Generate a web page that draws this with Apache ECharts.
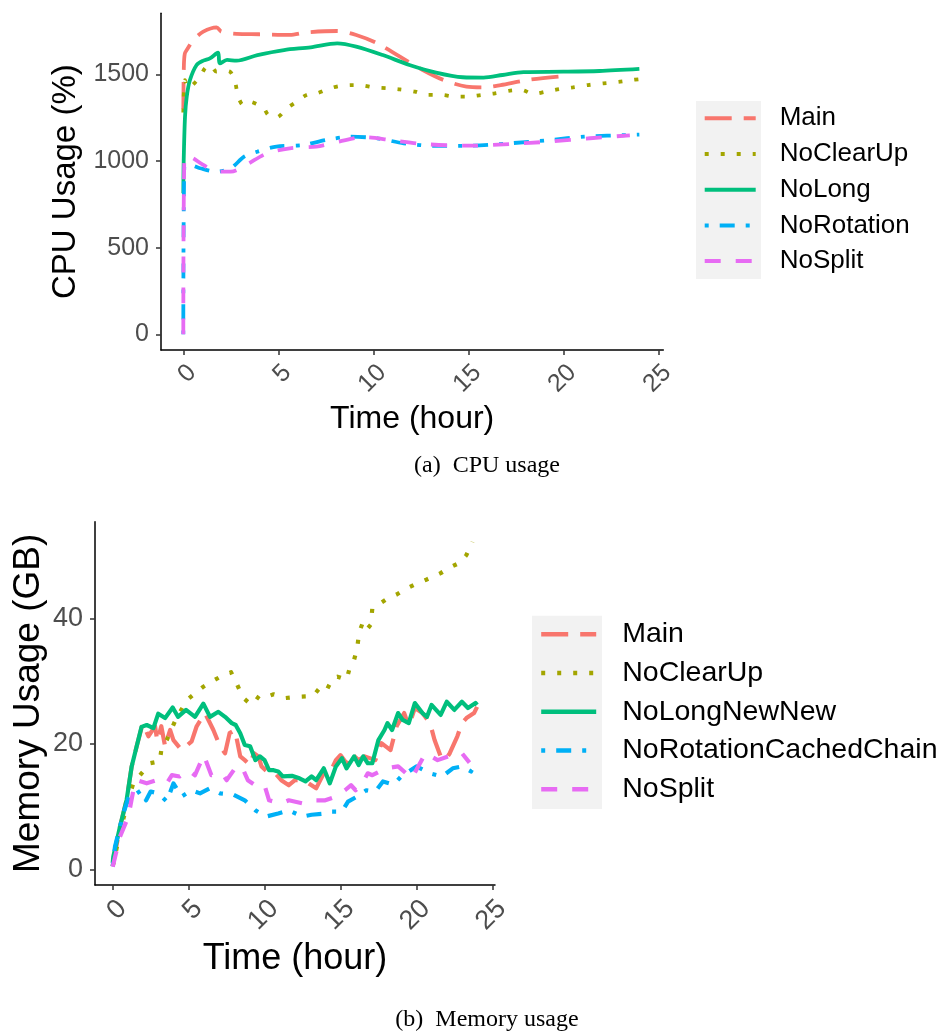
<!DOCTYPE html>
<html><head><meta charset="utf-8">
<script src="https://cdn.jsdelivr.net/npm/echarts@6/dist/echarts.min.js"></script>
<style>html,body{margin:0;padding:0;background:#fff}#c{width:942px;height:1032px}</style>
</head><body><div id="c"></div><script>
// ---------- tick labels & categories ----------
const hourTicks = [0, 5, 10, 15, 20, 25];
const cpuTicks = [0, 500, 1000, 1500];
const memTicks = [0, 20, 40];
const cpuNames = ['Main', 'NoClearUp', 'NoLong', 'NoRotation', 'NoSplit'];
const memNames = ['Main', 'NoClearUp', 'NoLongNewNew', 'NoRotationCachedChain', 'NoSplit'];

// ---------- (a) CPU usage (%) ----------
const cpuMainHours  = [0, 0.03, 0.08, 0.18, 0.53, 1.05, 1.75, 2.0, 2.8, 4.0, 5.6, 6.5, 8.1, 9.1, 10.2, 11.4, 12.6, 13.7, 14.9, 15.8, 16.7, 18.1, 20.0];
const cpuMainValues = [1300, 1550, 1620, 1640, 1698, 1746, 1771, 1746, 1733, 1731, 1727, 1742, 1750, 1727, 1679, 1602, 1525, 1467, 1429, 1425, 1438, 1467, 1490];

const cpuClearHours  = [0, 0.09, 0.26, 0.5, 0.88, 1.14, 1.4, 1.75, 2.1, 2.46, 2.72, 2.89, 3.16, 3.51, 3.86, 4.21, 4.47, 4.91, 5.44, 5.96, 6.49, 7.02, 7.72, 8.25, 8.95, 9.47, 10.0, 10.8, 11.4, 12.2, 12.8, 13.6, 14.3, 14.9, 15.7, 16.4, 17.2, 17.8, 18.4, 19.1, 19.8, 20.5, 21.3, 22.1, 22.9, 23.6, 24.0];
const cpuClearValues = [1280, 1467, 1419, 1440, 1486, 1535, 1554, 1515, 1521, 1515, 1458, 1371, 1323, 1342, 1329, 1310, 1265, 1252, 1304, 1342, 1381, 1390, 1419, 1433, 1438, 1435, 1425, 1419, 1413, 1400, 1381, 1381, 1371, 1371, 1381, 1390, 1406, 1410, 1387, 1400, 1415, 1425, 1438, 1448, 1456, 1467, 1472];

const cpuLongHours  = [0, 0.02, 0.09, 0.18, 0.35, 0.7, 1.05, 1.4, 1.75, 1.84, 1.93, 2.3, 2.8, 3.9, 5.3, 6.7, 8.1, 9.1, 10.5, 11.9, 13.3, 14.7, 15.8, 16.8, 17.9, 20.0, 21.9, 24.0];
const cpuLongValues = [813, 1000, 1256, 1371, 1467, 1554, 1579, 1592, 1621, 1625, 1563, 1583, 1579, 1611, 1640, 1656, 1679, 1660, 1611, 1554, 1510, 1483, 1481, 1496, 1513, 1515, 1519, 1531];

const cpuRotHours  = [0, 0.05, 0.35, 0.88, 1.75, 2.5, 3.2, 3.9, 4.9, 6.3, 7.5, 8.8, 10.2, 11.6, 13.3, 15.1, 17.2, 19.3, 21.1, 23.5, 24.0];
const cpuRotValues = [0, 967, 977, 958, 938, 958, 1025, 1054, 1083, 1092, 1121, 1140, 1131, 1102, 1087, 1088, 1102, 1121, 1140, 1150, 1152];

const cpuSplitHours  = [0, 0.05, 0.26, 0.53, 1.05, 1.75, 2.5, 3.3, 4.4, 5.6, 7.0, 8.2, 9.5, 10.9, 12.6, 15.1, 17.2, 19.3, 21.4, 23.5];
const cpuSplitValues = [0, 1006, 1029, 1015, 977, 938, 938, 977, 1044, 1073, 1083, 1112, 1137, 1121, 1098, 1088, 1098, 1112, 1131, 1148];

// ---------- (b) Memory usage (GB) ----------
const memMainHours  = [0, 0.48, 0.92, 1.25, 1.58, 1.98, 2.35, 2.79, 2.94, 3.2, 3.45, 3.78, 4.0, 4.54, 5.2, 5.53, 6.08, 6.63, 7.07, 7.4, 7.7, 8.05, 8.4, 8.7, 9.05, 9.3, 9.6, 9.8, 10.3, 10.7, 11.1, 11.6, 12.0, 12.5, 12.9, 13.4, 13.9, 14.3, 14.7, 15.0, 15.4, 15.7, 16.2, 16.6, 17.3, 17.7, 18.3, 18.7, 19.2, 19.5, 19.9, 20.4, 20.9, 21.2, 21.6, 21.9, 22.2, 22.7, 23.0, 23.3, 23.8, 24.0];
const memMainValues = [0.5, 6.8, 11.1, 16.4, 19.6, 23.3, 21.2, 22.8, 20.4, 22.8, 19.6, 22.2, 20.6, 19.0, 20.4, 22.8, 24.9, 22.2, 19.6, 18.5, 21.7, 22.2, 18.0, 17.4, 16.6, 18.5, 18.0, 16.4, 15.3, 15.3, 14.2, 13.4, 14.2, 14.2, 13.7, 12.9, 15.3, 15.3, 17.4, 18.2, 16.9, 18.5, 17.4, 18.0, 17.4, 20.1, 19.0, 22.8, 24.9, 22.8, 25.7, 24.9, 23.3, 20.6, 18.0, 17.4, 18.5, 21.2, 23.3, 24.1, 24.9, 25.9];

const memClearHours  = [0, 0.5, 1.0, 1.36, 1.8, 2.46, 3.1, 3.2, 3.56, 3.9, 4.2, 4.9, 5.3, 5.97, 6.5, 7.1, 7.8, 8.2, 8.6, 8.9, 9.3, 9.7, 10.6, 11.0, 11.4, 12.2, 13.2, 13.7, 14.1, 14.5, 14.8, 15.4, 15.6, 15.9, 16.1, 16.2, 16.3, 16.5, 16.8, 17.0, 17.1, 17.5, 18.0, 18.7, 19.3, 19.9, 20.6, 21.6, 22.2, 22.9, 23.3, 23.7];
const memClearValues = [0.5, 6.0, 11.0, 13.7, 15.0, 16.9, 17.2, 19.0, 20.6, 22.5, 24.1, 27.0, 27.8, 29.1, 29.9, 30.7, 31.4, 29.4, 27.3, 26.7, 27.8, 27.1, 27.9, 27.6, 27.3, 27.5, 27.6, 29.1, 28.6, 30.5, 30.7, 30.2, 32.0, 33.4, 35.2, 37.1, 38.2, 39.5, 38.4, 39.0, 41.6, 42.2, 43.0, 43.8, 44.7, 45.4, 46.1, 47.2, 48.1, 48.9, 50.1, 52.2];

const memLongHours  = [0, 0.04, 0.48, 0.92, 1.25, 1.58, 1.9, 2.24, 2.68, 3.0, 3.45, 3.95, 4.3, 4.83, 5.42, 5.97, 6.41, 6.96, 7.4, 7.84, 8.1, 8.4, 8.7, 9.05, 9.4, 9.7, 10.0, 10.3, 10.6, 10.9, 11.2, 11.8, 12.3, 12.7, 13.1, 13.4, 13.9, 14.3, 14.7, 15.1, 15.4, 15.9, 16.2, 16.5, 16.8, 17.1, 17.5, 17.9, 18.1, 18.4, 18.8, 19.1, 19.5, 19.9, 20.4, 20.7, 21.0, 21.6, 22.0, 22.5, 23.0, 23.4, 23.9, 24.0];
const memLongValues = [1.0, 2.0, 6.8, 11.1, 16.4, 19.6, 22.7, 23.0, 22.5, 24.8, 24.1, 25.8, 24.3, 25.4, 24.3, 26.4, 24.3, 25.1, 24.3, 23.3, 23.0, 21.7, 19.8, 19.6, 17.4, 18.0, 17.4, 15.8, 15.8, 15.6, 14.8, 14.9, 14.5, 14.0, 14.8, 14.2, 16.1, 13.7, 16.4, 17.7, 16.1, 18.0, 16.6, 18.0, 16.9, 16.9, 20.6, 22.2, 23.3, 22.2, 24.9, 23.8, 23.3, 26.5, 24.9, 24.3, 26.2, 24.6, 26.7, 25.4, 26.7, 25.7, 26.5, 26.2];

const memRotHours  = [0, 0.15, 0.7, 1.14, 1.58, 1.9, 2.2, 2.5, 3.0, 3.56, 4.0, 4.54, 5.2, 5.75, 6.4, 7.07, 7.95, 8.7, 9.4, 10.1, 10.9, 11.6, 12.5, 13.1, 14.0, 14.4, 15.1, 15.5, 16.1, 16.7, 17.3, 17.8, 18.5, 19.0, 20.0, 20.9, 21.7, 22.4, 23.0, 23.6, 24.0];
const memRotValues = [0.5, 3.6, 8.9, 12.1, 12.1, 12.6, 11.0, 12.4, 12.1, 10.8, 13.7, 11.6, 12.6, 12.1, 12.9, 12.1, 11.9, 11.0, 9.4, 8.4, 8.9, 9.4, 8.4, 8.7, 8.9, 9.2, 9.2, 10.8, 11.6, 12.6, 12.4, 14.0, 13.5, 14.8, 16.4, 15.3, 14.8, 16.1, 16.4, 15.6, 17.4];

const memSplitHours  = [0, 0.48, 1.03, 1.36, 1.58, 2.24, 2.9, 3.56, 3.9, 4.4, 4.97, 5.42, 6.0, 6.5, 7.2, 7.5, 8.06, 8.5, 8.9, 9.5, 10.0, 10.3, 11.1, 11.6, 12.5, 13.1, 14.0, 14.7, 15.3, 15.7, 16.0, 16.5, 16.8, 17.1, 18.0, 18.8, 19.7, 20.6, 21.4, 22.1, 23.0, 23.5];
const memSplitValues = [0.4, 5.2, 8.4, 12.6, 14.2, 13.7, 14.2, 13.7, 15.0, 14.8, 15.8, 15.0, 18.2, 15.0, 15.3, 14.2, 16.1, 16.4, 14.2, 13.2, 13.4, 11.0, 10.5, 11.0, 10.5, 11.0, 11.0, 11.6, 12.6, 13.4, 12.6, 14.0, 15.3, 15.0, 16.1, 16.4, 14.5, 18.5, 17.4, 18.0, 18.5, 17.0];

// ---------- styling ----------
const colors = ['#F8766D', '#A3A500', '#00BF7D', '#00B0F6', '#E76BF3'];
const dashes = [[27, 12], [4, 12], 'solid', [4, 11, 15, 11], [16, 15]];
const sans = 'Liberation Sans, Arial, Helvetica, sans-serif';
const serif = 'Liberation Serif, Times New Roman, serif';

const cpuSets = [[cpuMainHours, cpuMainValues], [cpuClearHours, cpuClearValues], [cpuLongHours, cpuLongValues], [cpuRotHours, cpuRotValues], [cpuSplitHours, cpuSplitValues]];
const memSets = [[memMainHours, memMainValues], [memClearHours, memClearValues], [memLongHours, memLongValues], [memRotHours, memRotValues], [memSplitHours, memSplitValues]];

function pairs(h, v) { return h.map((x, i) => [x, v[i]]); }

const series = [];
cpuSets.forEach((s, i) => series.push({
  type: 'line', name: cpuNames[i], xAxisIndex: 0, yAxisIndex: 0,
  data: pairs(s[0], s[1]), symbol: 'none', showSymbol: false, smooth: 0.3,
  lineStyle: { color: colors[i], width: 3.8, type: dashes[i], cap: 'butt' },
  itemStyle: { color: colors[i] }, animation: false
}));
memSets.forEach((s, i) => series.push({
  type: 'line', name: memNames[i], xAxisIndex: 1, yAxisIndex: 1,
  data: pairs(s[0], s[1]), symbol: 'none', showSymbol: false,
  lineStyle: { color: colors[i], width: 4.2, type: dashes[i], cap: 'butt', join: 'round' },
  itemStyle: { color: colors[i] }, animation: false
}));

const plain = v => String(v);

function xAxis(grid, min, max, fs, nfs, gap) {
  return {
    type: 'value', gridIndex: grid, min: min, max: max,
    axisLine: { show: true, onZero: false, lineStyle: { color: '#000', width: 1.5 } },
    axisTick: { show: true, length: 5, customValues: hourTicks, lineStyle: { color: '#333', width: 1.5 } },
    axisLabel: { customValues: hourTicks, formatter: plain, rotate: 45, margin: 10, verticalAlign: 'top',
      fontSize: fs, color: '#4d4d4d', fontFamily: sans },
    splitLine: { show: false },
    name: 'Time (hour)', nameLocation: 'middle', nameGap: gap,
    nameTextStyle: { fontSize: nfs, color: '#000', fontFamily: sans }
  };
}
function yAxis(grid, min, max, ticks, name, fs, nfs, gap) {
  return {
    type: 'value', gridIndex: grid, min: min, max: max,
    axisLine: { show: true, onZero: false, lineStyle: { color: '#000', width: 1.5 } },
    axisTick: { show: true, length: 5, customValues: ticks, lineStyle: { color: '#333', width: 1.5 } },
    axisLabel: { customValues: ticks, formatter: plain, margin: 12, fontSize: fs, color: '#4d4d4d', fontFamily: sans },
    splitLine: { show: false },
    name: name, nameLocation: 'middle', nameGap: gap,
    nameTextStyle: { fontSize: nfs, color: '#000', fontFamily: sans }
  };
}

const option = {
  backgroundColor: '#fff',
  animation: false,
  grid: [
    { left: 161, top: 13.3, width: 502.3, height: 336.7 },
    { left: 95, top: 521.7, width: 400, height: 363.3 }
  ],
  xAxis: [xAxis(0, -1.174, 25.26, 25, 32, 53), xAxis(1, -1.166, 25.18, 27, 36, 56)],
  yAxis: [yAxis(0, -90.6, 1852, cpuTicks, 'CPU Usage (%)', 25, 33, 72), yAxis(1, -2.5, 55.4, memTicks, 'Memory Usage (GB)', 27, 37, 48)],
  legend: [
    { data: cpuNames, orient: 'vertical', left: 702.7, top: 103.3, padding: 0,
      itemWidth: 51, itemHeight: 30, itemGap: 5.7, selectedMode: false,
      itemStyle: { opacity: 0 }, lineStyle: { width: 4 },
      textStyle: { fontSize: 26, color: '#000', fontFamily: sans, lineHeight: 30, padding: [0, 0, 0, 19] } },
    { data: memNames, orient: 'vertical', left: 539, top: 619.3, padding: 0,
      itemWidth: 55, itemHeight: 30, itemGap: 8.75, selectedMode: false,
      itemStyle: { opacity: 0 }, lineStyle: { width: 4.4 },
      textStyle: { fontSize: 28.5, color: '#000', fontFamily: sans, lineHeight: 30, padding: [0, 0, 0, 21] } }
  ],
  graphic: [
    { type: 'rect', z: -10, shape: { x: 696, y: 101, width: 65, height: 178 }, style: { fill: '#f2f2f2' } },
    { type: 'rect', z: -10, shape: { x: 532, y: 615.7, width: 70, height: 193.3 }, style: { fill: '#f2f2f2' } },
    { type: 'text', x: 487, y: 466, style: { text: '(a)  CPU usage', font: '24px ' + serif, fill: '#000', align: 'center', verticalAlign: 'middle' } },
    { type: 'text', x: 487, y: 1020, style: { text: '(b)  Memory usage', font: '24px ' + serif, fill: '#000', align: 'center', verticalAlign: 'middle' } }
  ],
  series: series
};
const chart = echarts.init(document.getElementById('c'), null, { renderer: 'canvas' });
chart.setOption(option);
</script></body></html>
